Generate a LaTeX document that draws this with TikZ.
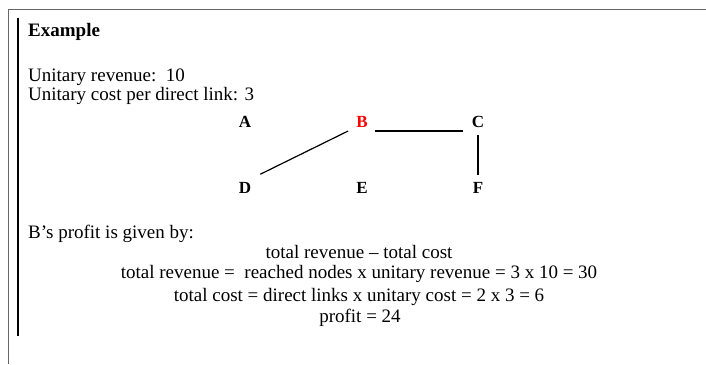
\documentclass[tikz,border=0pt]{standalone}
\usepackage{fontspec}
\setmainfont{Liberation Serif}
\begin{document}
\begin{tikzpicture}[x=1pt,y=-1pt,
  txt/.style={inner sep=0pt,anchor=west,font=\fontsize{19}{21}\selectfont},
  ctr/.style={inner sep=0pt,font=\fontsize{19}{21}\selectfont},
  lbl/.style={inner sep=0pt,font=\fontsize{17}{20}\selectfont\bfseries},
  frame/.style={draw=black!60,line width=1.3pt},
  link/.style={draw=black,line width=1.4pt}]
\useasboundingbox (0,0) rectangle (706,364);
\coordinate (fb) at (8.5,364);
\coordinate (ftl) at (8.5,9.5);
\coordinate (ftr) at (706,9.5);
\draw[frame] (fb) -- (ftl) -- (ftr);
\coordinate (bt) at (18,18);
\coordinate (bb) at (18,336);
\draw[line width=2pt] (bt) -- (bb);
\node[txt,font=\fontsize{19}{21}\selectfont\bfseries] (ex) at (28,32) {Example};
\node[txt] (ur) at (28,77) {Unitary revenue:\ \ 10};
\node[txt] (uc) at (28,96) {Unitary cost per direct link: 3};
\node[lbl] (A) at (245,122) {A};
\node[lbl,text=red] (B) at (362,122) {B};
\node[lbl] (C) at (478,122) {C};
\node[lbl] (D) at (245,188) {D};
\node[lbl] (E) at (362,188) {E};
\node[lbl] (F) at (478,188) {F};
\draw[link] ([shift={(7pt,-9pt)}]B.east) -- ([shift={(-9pt,-9pt)}]C.west);
\draw[link,line width=1.2pt] ([shift={(-8pt,-9pt)}]B.west) -- ([shift={(9pt,8pt)}]D.north east);
\draw[link,line width=1.2pt] ([shift={(0pt,-7pt)}]C.south) -- ([shift={(0pt,7pt)}]F.north);
\node[txt] (bp) at (28,234) {B’s profit is given by:};
\node[ctr] (l1) at (359,252) {total revenue – total cost};
\node[ctr] (l2) at (359,274) {total revenue =\ \ reached nodes x unitary revenue = 3 x 10 = 30};
\node[ctr] (l3) at (359,297) {total cost = direct links x unitary cost = 2 x 3 = 6};
\node[ctr] (l4) at (360,318) {profit = 24};
\end{tikzpicture}
\end{document}
